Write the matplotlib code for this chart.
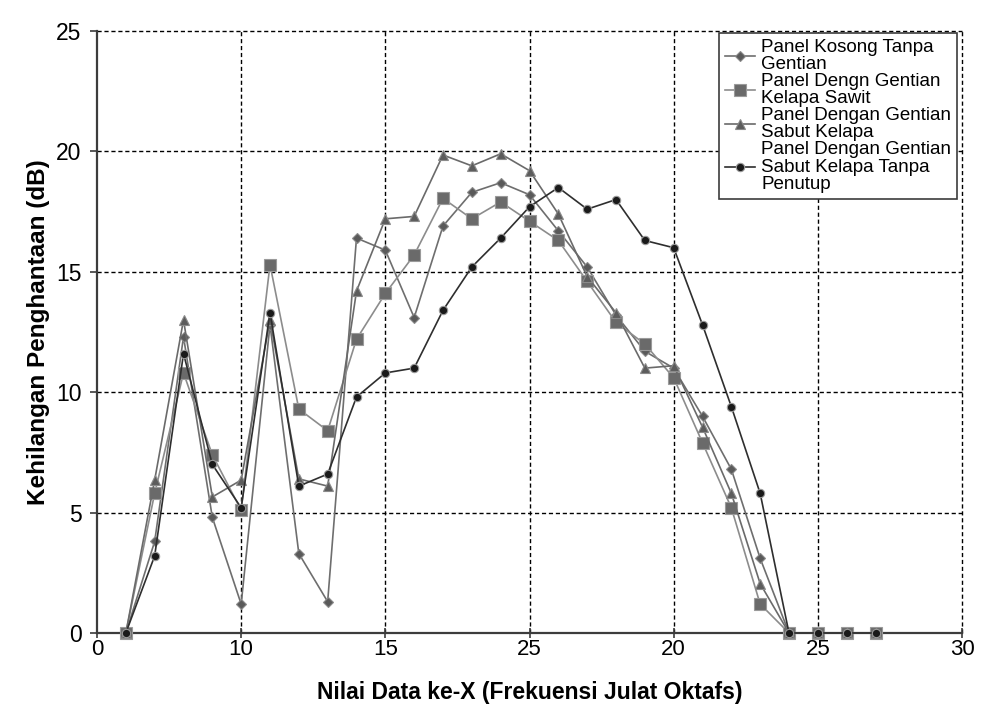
import matplotlib
matplotlib.use("Agg")
import matplotlib.pyplot as plt

# ---- data -------------------------------------------------------------
x_index = list(range(1, 28))

kosong = [0, 3.8, 12.3, 4.8, 1.2, 12.8, 3.3, 1.3, 16.4, 15.9, 13.1, 16.9, 18.3,
          18.7, 18.2, 16.7, 15.2, 13.2, 11.7, 11.0, 9.0, 6.8, 3.1, 0, 0, 0, 0]
sawit = [0, 5.8, 10.8, 7.4, 5.1, 15.3, 9.3, 8.4, 12.2, 14.1, 15.7, 18.05, 17.2,
         17.9, 17.1, 16.3, 14.6, 12.9, 12.0, 10.6, 7.9, 5.2, 1.2, 0, 0, 0, 0]
sabut = [0, 6.35, 13.0, 5.65, 6.35, 13.0, 6.4, 6.1, 14.2, 17.2, 17.3, 19.85, 19.4,
         19.9, 19.2, 17.4, 14.8, 13.3, 11.0, 11.1, 8.55, 5.8, 2.05, 0, 0, 0, 0]
sabut_tanpa = [0, 3.2, 11.6, 7.0, 5.2, 13.3, 6.1, 6.6, 9.8, 10.8, 11.0, 13.4, 15.2,
               16.4, 17.7, 18.5, 17.6, 18.0, 16.3, 16.0, 12.8, 9.4, 5.8, 0, 0, 0, 0]

series_labels = [
    "Panel Kosong Tanpa\nGentian",
    "Panel Dengn Gentian\nKelapa Sawit",
    "Panel Dengan Gentian\nSabut Kelapa",
    "Panel Dengan Gentian\nSabut Kelapa Tanpa\nPenutup",
]

x_ticks = [0, 5, 10, 15, 20, 25, 30]
x_tick_labels = ["0", "10", "15", "25", "20", "25", "30"]
y_ticks = [0, 5, 10, 15, 20, 25]

x_title = "Nilai Data ke-X (Frekuensi Julat Oktafs)"
y_title = "Kehilangan Penghantaan (dB)"

plt.rcParams["font.family"] = ["Liberation Sans", "DejaVu Sans"]

# ---- figure -----------------------------------------------------------
fig = plt.figure(figsize=(9.82, 7.11), dpi=100)
ax = fig.add_axes([97 / 982, 1 - 633 / 711, (962 - 97) / 982, (633 - 31) / 711])

styles = [
    dict(marker="D", ms=5.0, color="#6e6e6e", mfc="#5a5a5a", mec="#8a8a8a", lw=1.2),
    dict(marker="s", ms=8.0, color="#8c8c8c", mfc="#6a6a6a", mec="#9a9a9a", lw=1.2),
    dict(marker="^", ms=7.0, color="#6a6a6a", mfc="#5c5c5c", mec="#8a8a8a", lw=1.2),
    dict(marker="o", ms=6.0, color="#2e2e2e", mfc="#1a1a1a", mec="#9a9a9a", lw=1.2),
]
for ys, lab, st in zip([kosong, sawit, sabut, sabut_tanpa], series_labels, styles):
    ax.plot(x_index, ys, label=lab, mew=0.8, clip_on=False, zorder=3, **st)

ax.set_xlim(0, 30)
ax.set_ylim(0, 25)

# dashed grid, also forming the top and right border
for xv in x_ticks[1:]:
    ax.axvline(xv, color="black", lw=1.0, ls=(0, (3, 2)), zorder=1, clip_on=False)
for yv in y_ticks[1:]:
    ax.axhline(yv, color="black", lw=1.0, ls=(0, (3, 2)), zorder=1, clip_on=False)

for side in ("top", "right"):
    ax.spines[side].set_visible(False)
for side in ("left", "bottom"):
    ax.spines[side].set_color("#3c3c3c")
    ax.spines[side].set_linewidth(1.6)
    ax.spines[side].set_zorder(2)

ax.set_xticks(x_ticks)
ax.set_xticklabels(x_tick_labels, fontsize=16)
ax.set_yticks(y_ticks)
ax.set_yticklabels([str(v) for v in y_ticks], fontsize=16.5)
ax.tick_params(axis="x", direction="inout", length=7, width=1.2, color="#3c3c3c", pad=1)
ax.tick_params(axis="y", direction="out", length=5, width=1.2, color="#3c3c3c", pad=6)

ax.set_xlabel(x_title, fontsize=16.5, fontweight="bold")
ax.xaxis.set_label_coords(0.5, (633 - 681) / 602)
ax.set_ylabel(y_title, fontsize=17.5, fontweight="bold")
ax.yaxis.set_label_coords((50 - 97) / 865, 0.5)

leg = ax.legend(loc="upper right", bbox_to_anchor=(0.9942, 0.9967), borderaxespad=0,
                frameon=True, fancybox=False, fontsize=13.5, handlelength=1.6,
                handletextpad=0.35, labelspacing=0.0, borderpad=0.3)
leg.get_frame().set_edgecolor("#3c3c3c")
leg.get_frame().set_linewidth(1.2)
leg.get_frame().set_alpha(1.0)
leg.set_zorder(5)
for t in leg.get_texts():
    t.set_linespacing(1.02)

fig.savefig("out.png", dpi=100)
